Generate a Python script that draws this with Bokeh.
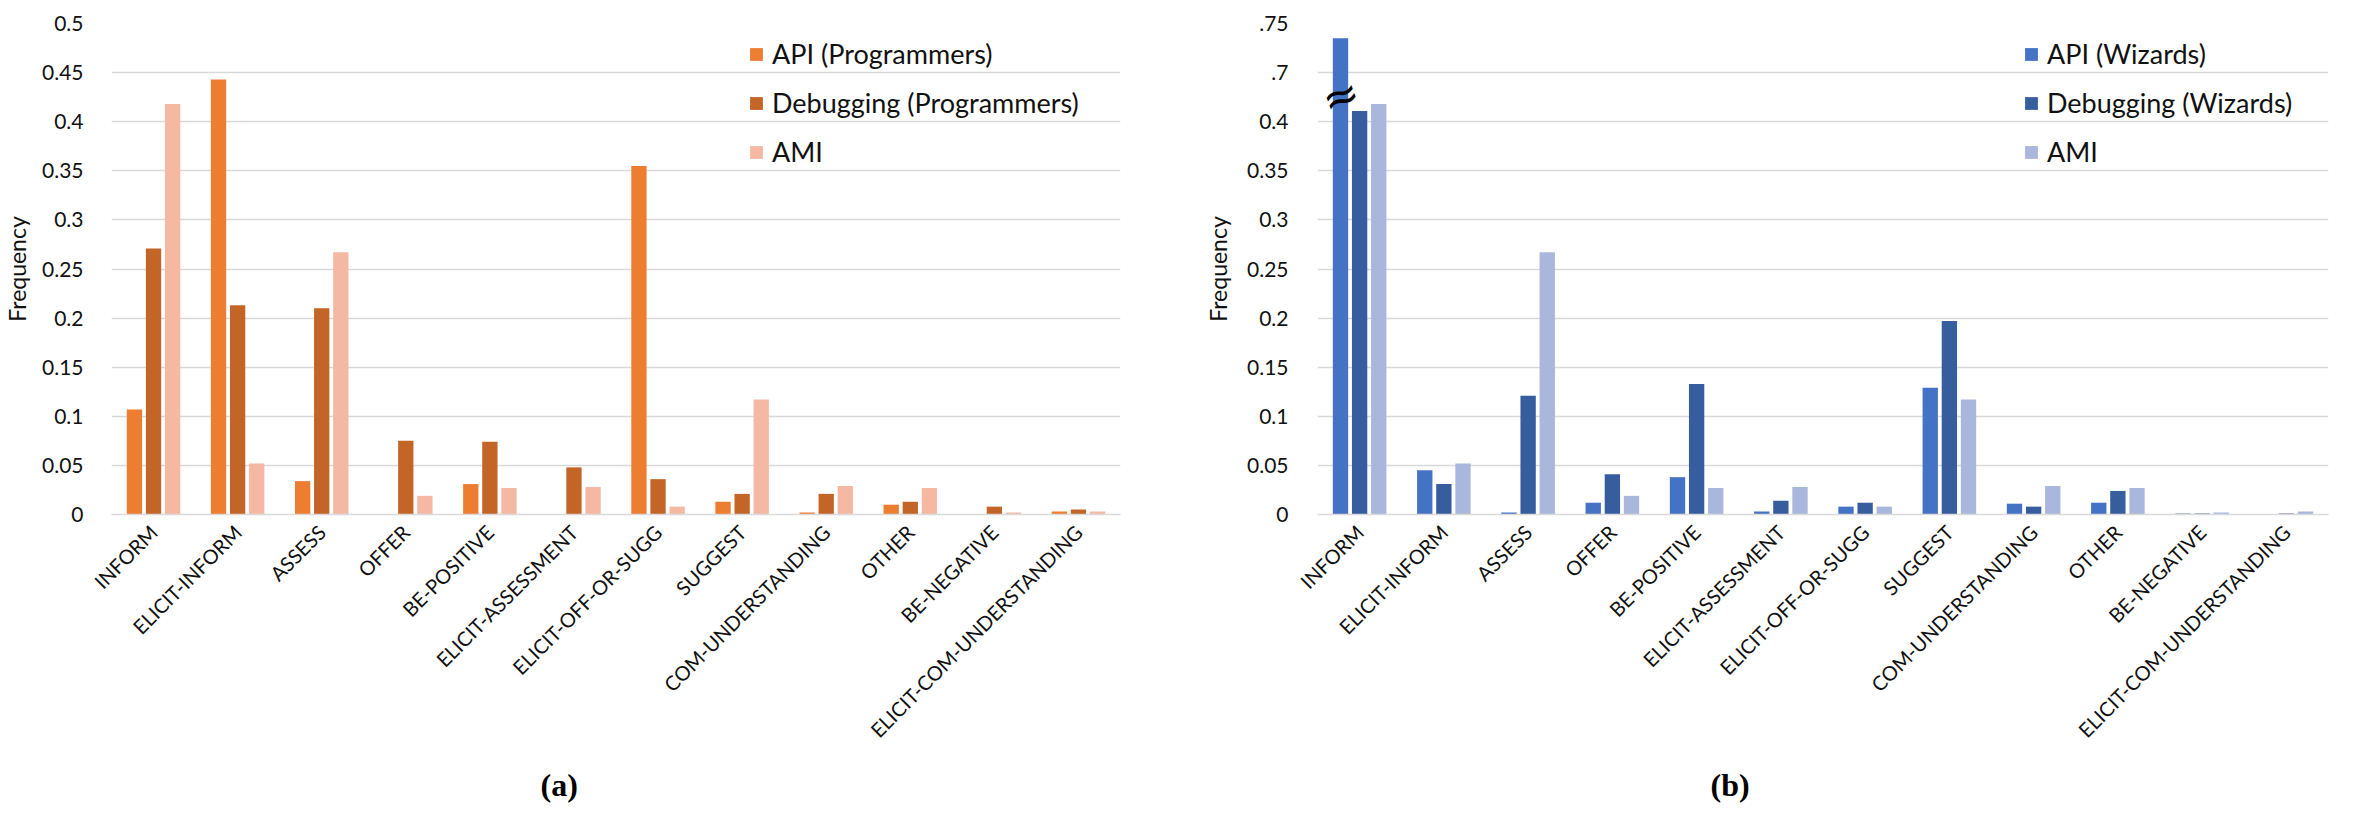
import math
from bokeh.plotting import figure
from bokeh.models import (ColumnDataSource, FactorRange, Range1d, FixedTicker,
                          Legend, LegendItem, Label, Title)
from bokeh.transform import dodge
from bokeh.layouts import row
from bokeh.embed import file_html
from bokeh.resources import INLINE

categories = ["INFORM", "ELICIT-INFORM", "ASSESS", "OFFER", "BE-POSITIVE",
              "ELICIT-ASSESSMENT", "ELICIT-OFF-OR-SUGG", "SUGGEST",
              "COM-UNDERSTANDING", "OTHER", "BE-NEGATIVE",
              "ELICIT-COM-UNDERSTANDING"]

api_programmers = [0.107, 0.443, 0.034, 0.0, 0.031, 0.0, 0.355, 0.013, 0.002, 0.010, 0.0, 0.003]
debug_programmers = [0.271, 0.213, 0.210, 0.075, 0.074, 0.048, 0.036, 0.021, 0.021, 0.013, 0.008, 0.005]
ami = [0.418, 0.052, 0.267, 0.019, 0.027, 0.028, 0.008, 0.117, 0.029, 0.027, 0.002, 0.003]

api_wizards = [0.735, 0.045, 0.002, 0.012, 0.038, 0.003, 0.008, 0.129, 0.011, 0.012, 0.001, 0.0]
debug_wizards = [0.411, 0.031, 0.121, 0.041, 0.133, 0.014, 0.012, 0.197, 0.008, 0.024, 0.001, 0.001]

y_ticks = [0, 0.05, 0.1, 0.15, 0.2, 0.25, 0.3, 0.35, 0.4, 0.45, 0.5]
left_tick_labels = ["0", "0.05", "0.1", "0.15", "0.2", "0.25", "0.3", "0.35", "0.4", "0.45", "0.5"]
right_tick_labels = ["0", "0.05", "0.1", "0.15", "0.2", "0.25", "0.3", "0.35", "0.4", ".7", ".75"]

left_names = ["API (Programmers)", "Debugging (Programmers)", "AMI"]
right_names = ["API (Wizards)", "Debugging (Wizards)", "AMI"]
left_colors = ["#ED7D31", "#C46528", "#F4B8A3"]
right_colors = ["#4472C4", "#365E9F", "#A9B7DC"]

# broken axis on panel (b): values above the break are shifted down
BREAK_AT = 0.45
BREAK_TO = 0.70


def broken(vals):
    return [v if v <= BREAK_AT else BREAK_AT + (v - BREAK_TO) for v in vals]


FONT = "Lato"
H = 813


def make_chart(series, names, colors, tick_labels, width, min_left, min_right,
               title_text, title_offset, legend_vx, tick_standoff, label_standoff):
    p = figure(x_range=FactorRange(factors=categories), y_range=Range1d(0, 0.5),
               width=width, height=H, output_backend="svg", toolbar_location=None,
               min_border_left=min_left, min_border_right=min_right,
               min_border_top=23, min_border_bottom=299)
    p.outline_line_color = None
    p.background_fill_color = "white"

    src = ColumnDataSource(dict(cat=categories, s0=series[0], s1=series[1], s2=series[2]))
    offsets = [-0.227, 0.0, 0.227]
    items = []
    for i in range(3):
        r = p.vbar(x=dodge("cat", offsets[i], range=p.x_range), top="s%d" % i,
                   width=0.182, source=src, fill_color=colors[i], line_color=None)
        items.append(LegendItem(label=names[i], renderers=[r]))

    legend = Legend(items=items, location=(legend_vx, 346), orientation="vertical",
                    glyph_width=16, glyph_height=16, label_height=32, spacing=16,
                    padding=0, margin=0, border_line_color=None,
                    background_fill_alpha=0, label_text_font=FONT,
                    label_text_font_size="27px", label_standoff=8,
                    label_text_color="#111111")
    p.add_layout(legend)

    p.xgrid.grid_line_color = None
    p.ygrid.grid_line_color = "#D9D9D9"
    p.ygrid.grid_line_width = 1.5

    p.yaxis.ticker = FixedTicker(ticks=y_ticks)
    p.yaxis.major_label_overrides = {t: l for t, l in zip(y_ticks, tick_labels)}
    p.yaxis.axis_line_color = None
    p.yaxis.major_tick_line_color = None
    p.yaxis.minor_tick_line_color = None
    p.yaxis.major_label_standoff = tick_standoff
    p.yaxis.major_label_text_font = FONT
    p.yaxis.major_label_text_font_size = "21px"
    p.yaxis.major_label_text_color = "#111111"
    p.yaxis.axis_label = "Frequency"
    p.yaxis.axis_label_text_font = FONT
    p.yaxis.axis_label_text_font_size = "23px"
    p.yaxis.axis_label_text_font_style = "normal"
    p.yaxis.axis_label_text_color = "#111111"
    p.yaxis.axis_label_standoff = label_standoff

    p.xaxis.axis_line_color = "#D9D9D9"
    p.xaxis.axis_line_width = 1.5
    p.xaxis.major_tick_line_color = None
    p.xaxis.minor_tick_line_color = None
    p.xaxis.major_label_orientation = math.pi / 4
    p.xaxis.major_label_text_font = FONT
    p.xaxis.major_label_text_font_size = "20px"
    p.xaxis.major_label_text_color = "#111111"
    p.xaxis.major_label_standoff = 8

    t = Title(text=title_text, align="left", offset=title_offset,
              text_font="Liberation Serif", text_font_style="bold",
              text_font_size="32px", text_color="black", standoff=22)
    p.add_layout(t, "below")
    return p


p1 = make_chart([api_programmers, debug_programmers, ami], left_names, left_colors,
                left_tick_labels, 1160, 108, 40, "(a)", 429, 637, 22, 8)
p2 = make_chart([broken(api_wizards), broken(debug_wizards), broken(ami)], right_names,
                right_colors, right_tick_labels, 1180, 157, 12, "(b)", 393, 706, 23, 12)

brk = Label(x=0.273, y=0.4265, text="\u2248", text_font="DejaVu Sans",
            text_font_size="44px", text_align="center", text_baseline="middle",
            angle=0.35, text_color="black")
p2.add_layout(brk)

layout = row(p1, p2)
open("out.html", "w").write(file_html(layout, INLINE))
